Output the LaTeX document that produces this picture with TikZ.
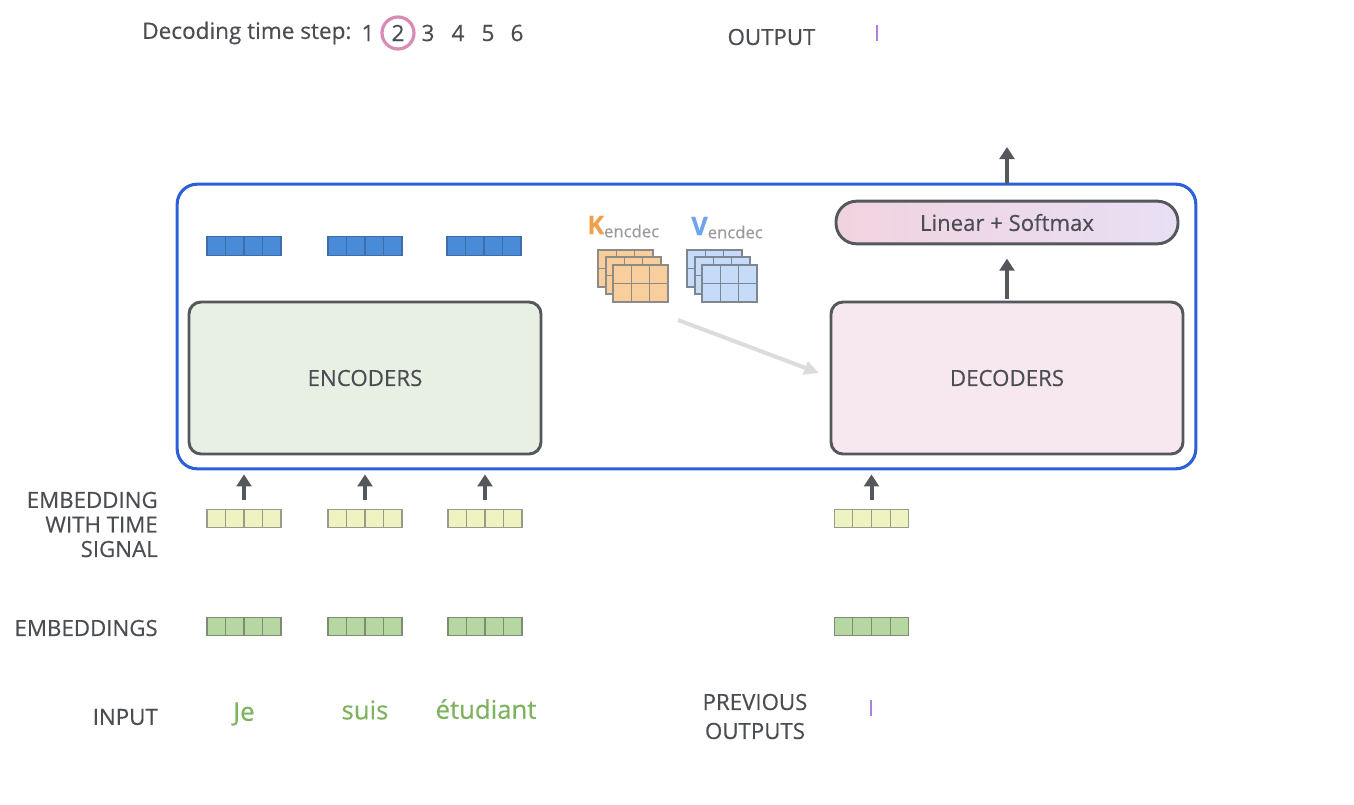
\documentclass[tikz,border=0pt]{standalone}
\usepackage{fontspec}
\setmainfont{Open Sans}[FakeBold=0.35]
\usetikzlibrary{arrows.meta,calc}
\definecolor{txt}{HTML}{4A4D52}
\definecolor{boxline}{HTML}{54575C}
\definecolor{outerblue}{HTML}{2C60D9}
\definecolor{encfill}{HTML}{E8F0E3}
\definecolor{decfill}{HTML}{F7E8F0}
\definecolor{pillL}{HTML}{F1D3DF}
\definecolor{pillR}{HTML}{E8DFF4}
\definecolor{bvfill}{HTML}{4A8BD8}
\definecolor{bvline}{HTML}{3E6EAA}
\definecolor{yvfill}{HTML}{EFF3C2}
\definecolor{yvline}{HTML}{9A9A8A}
\definecolor{gvfill}{HTML}{B6D7A2}
\definecolor{gvline}{HTML}{7E8C74}
\definecolor{korange}{HTML}{F0A04B}
\definecolor{kfill}{HTML}{F8CF9C}
\definecolor{kline}{HTML}{8E8A85}
\definecolor{vblue}{HTML}{6FA3EC}
\definecolor{vfill}{HTML}{C6DBF8}
\definecolor{vline}{HTML}{7D8794}
\definecolor{wordgreen}{HTML}{7DB35F}
\definecolor{outpurple}{HTML}{B07EE0}
\definecolor{circpink}{HTML}{D88BB5}
\definecolor{lightarrow}{HTML}{DCDCDC}
\definecolor{subgray}{HTML}{9A9A9A}
\tikzset{
  lbl/.style={text=txt, font=\fontsize{16.7}{18.4}\selectfont, inner sep=0pt},
  bigbox/.style={draw=boxline, line width=2.2pt, rounded corners=9pt, minimum width=264pt, minimum height=114pt, inner sep=0pt},
  vecbox/.style={line width=0.8pt, minimum width=55.5pt, minimum height=14pt, inner sep=0pt},
  uparrow/.style={draw=boxline, line width=3pt, -{Triangle[length=9pt,width=11pt]}},
  word/.style={text=wordgreen, font=\fontsize{19.3}{22}\selectfont, inner sep=0pt},
}
\newcommand\embvec[5]{%
  \node[vecbox, fill=#4, draw=#5] (#1) at (#2,#3) {};
  \foreach \k in {1,2,3}
    \draw[#5, line width=0.8pt] ($(#1.north west)!\k/4!(#1.north east)$) -- ($(#1.south west)!\k/4!(#1.south east)$);
}
\newcommand\kvgrid[4]{%
  \filldraw[fill=#3, draw=#4, line width=0.8pt] (#1,#2) rectangle ++(55,37);
  \draw[#4, line width=0.8pt] (#1+18.33,#2) -- ++(0,37) (#1+36.67,#2) -- ++(0,37) (#1,#2+18.5) -- ++(55,0);
}
\begin{document}
\begin{tikzpicture}[x=0.75pt,y=-0.75pt]
\useasboundingbox (0,0) rectangle (1354,804);
\fill[white] (0,0) rectangle (1354,804);

% top line
\node[lbl, anchor=west, font=\fontsize{16.9}{18}\selectfont] (dts) at (142,33) {Decoding time step:};
\foreach \n/\xx in {1/368,2/398,3/428,4/458,5/488,6/517}
  \node[lbl, font=\fontsize{16.9}{18}\selectfont] (n\n) at (\xx,33) {\n};
\draw[circpink, line width=2.4pt] (n2) circle (12pt);
\node[lbl] (outlbl) at (771.5,37) {OUTPUT};
\node[lbl, text=outpurple] (outI) at (877,33) {I};

% outer box
\node[draw=outerblue, line width=2.3pt, rounded corners=15pt, minimum width=764pt, minimum height=213.5pt, inner sep=0pt] (outer) at (686.5,326.5) {};

% encoders / decoders
\node[bigbox, fill=encfill, lbl] (enc) at (365,378) {ENCODERS};
\node[bigbox, fill=decfill, lbl] (dec) at (1007,378) {DECODERS};

% linear + softmax
\node[draw=boxline, line width=2.2pt, rounded corners=15.5pt, left color=pillL, right color=pillR,
      minimum width=256.5pt, minimum height=32pt, inner sep=0pt, text=txt, font=\fontsize{16.6}{18}\selectfont] (pill) at (1007,222.5) {Linear + Softmax};
\draw[uparrow, shorten <=1.5pt, shorten >=10pt] (dec.north) -- (pill.south);
\coordinate (outtop) at (1007,147);
\draw[uparrow] (pill.north |- outer.north) ++(0,1) -- (outtop);

% blue encoder outputs
\embvec{b1}{244}{246}{bvfill}{bvline}
\embvec{b2}{365}{246}{bvfill}{bvline}
\embvec{b3}{484}{246}{bvfill}{bvline}

% K and V
\node[inner sep=0pt, anchor=base west] (klab) at (587,234) {\textcolor{korange}{\fontsize{19}{19}\selectfont\bfseries K}\raisebox{-2.5pt}{\textcolor{subgray}{\fontsize{12.5}{12.5}\selectfont encdec}}};
\node[inner sep=0pt, anchor=base west] (vlab) at (691,235) {\textcolor{vblue}{\fontsize{19}{19}\selectfont\bfseries V}\raisebox{-2.5pt}{\textcolor{subgray}{\fontsize{12.5}{12.5}\selectfont encdec}}};
\kvgrid{598}{250}{kfill}{kline}
\kvgrid{606}{257}{kfill}{kline}
\kvgrid{613}{265}{kfill}{kline}
\kvgrid{687}{250}{vfill}{vline}
\kvgrid{695}{257}{vfill}{vline}
\kvgrid{702}{265}{vfill}{vline}
\coordinate (kvout) at (678,320);
\coordinate (decin) at (819,373);
\draw[lightarrow, line width=3pt, -{Triangle[length=11pt,width=10pt]}] (kvout) -- (decin);

% embeddings with time signal
\embvec{y1}{244}{518.5}{yvfill}{yvline}
\embvec{y2}{365}{518.5}{yvfill}{yvline}
\embvec{y3}{485}{518.5}{yvfill}{yvline}
\embvec{y4}{871.5}{518.5}{yvfill}{yvline}
\foreach \i in {1,2,3}
  \draw[uparrow, shorten <=6.5pt, shorten >=3pt] (y\i.north) -- (y\i.north |- outer.south);
\draw[uparrow, shorten <=6.5pt, shorten >=3pt] (y4.north) -- (y4.north |- outer.south);

% embeddings
\embvec{g1}{244}{626.5}{gvfill}{gvline}
\embvec{g2}{365}{626.5}{gvfill}{gvline}
\embvec{g3}{485}{626.5}{gvfill}{gvline}
\embvec{g4}{871.5}{626.5}{gvfill}{gvline}

% left labels
\node[lbl, anchor=east, align=right] (lemb) at (158,524.5) {EMBEDDING\\WITH TIME\\SIGNAL};
\node[lbl, anchor=east] (lembs) at (158,628) {EMBEDDINGS};
\node[lbl, anchor=east] (linput) at (158,717) {INPUT};

% words
\node[word] (w1) at (244,714) {Je};
\node[word] (w2) at (365,710) {suis};
\node[word] (w3) at (486,709) {étudiant};
\node[lbl, align=center, font=\fontsize{16.7}{21.75}\selectfont] (prev) at (755,716.5) {PREVIOUS\\OUTPUTS};
\node[lbl, text=outpurple] (prevI) at (871,708) {I};
\end{tikzpicture}
\end{document}
